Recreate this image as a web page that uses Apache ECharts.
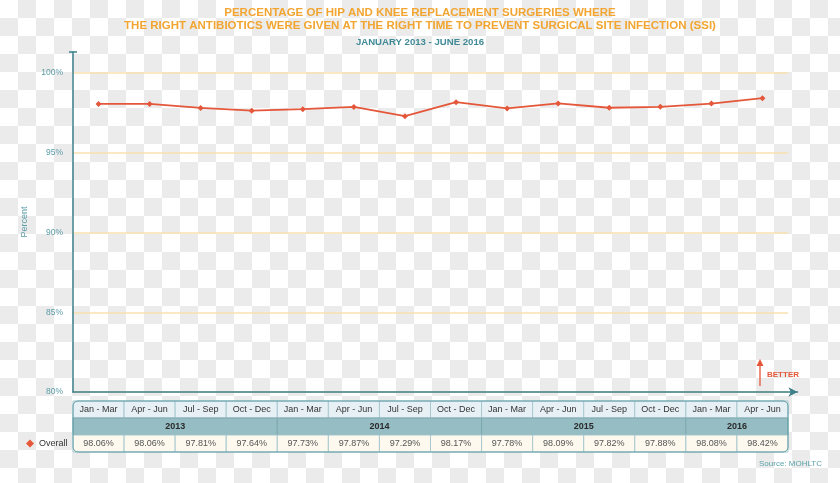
<!DOCTYPE html>
<html><head><meta charset="utf-8">
<script src="https://cdn.jsdelivr.net/npm/echarts@6/dist/echarts.min.js"></script>
<style>
html,body{margin:0;padding:0;width:840px;height:483px;overflow:hidden;
background:#fff repeating-conic-gradient(#ebebeb 0 25%, #ffffff 0 50%) 0 0/36px 36px;}
#c{width:840px;height:483px;}
</style></head><body><div id="c"></div>
<script>
const quarters = ['Jan - Mar','Apr - Jun','Jul - Sep','Oct - Dec','Jan - Mar','Apr - Jun','Jul - Sep','Oct - Dec','Jan - Mar','Apr - Jun','Jul - Sep','Oct - Dec','Jan - Mar','Apr - Jun'];
const years = ['2013','2014','2015','2016'];
const yearSpans = [4,4,4,2];
const overall = [98.06,98.06,97.81,97.64,97.73,97.87,97.29,98.17,97.78,98.09,97.82,97.88,98.08,98.42];
const yMin = 80, yMax = 100, yStep = 5;

const FONT = 'Liberation Sans, Arial, sans-serif';
const TEAL = '#5b9ca6';
const RED = '#e4573a';

// build table cells from the arrays
const cells = [];
quarters.forEach((q, i) => cells.push({x0: i, x1: i + 1, row: 0, text: q}));
let start = 0;
years.forEach((y, i) => { cells.push({x0: start, x1: start + yearSpans[i], row: 1, text: y}); start += yearSpans[i]; });
overall.forEach((v, i) => cells.push({x0: i, x1: i + 1, row: 2, text: v.toFixed(2) + '%'}));
const rowStyles = [
  {fill: '#e7f0f5', stroke: '#a9c9cf', color: '#333333', weight: 'normal'},
  {fill: '#95bdc3', stroke: '#7fa9b0', color: '#2a2a2a', weight: 'bold'},
  {fill: '#fdf9ee', stroke: '#a9c9cf', color: '#555555', weight: 'normal'}
];

function renderCell(params, api) {
  const c = cells[params.dataIndex];
  const s = rowStyles[c.row];
  const p0 = api.coord([c.x0, c.row]);
  const p1 = api.coord([c.x1, c.row + 1]);
  return {
    type: 'group',
    children: [
      {type: 'rect', shape: {x: p0[0], y: p0[1], width: p1[0] - p0[0], height: p1[1] - p0[1]},
       style: {fill: s.fill, stroke: s.stroke, lineWidth: 1}},
      {type: 'text', style: {text: c.text, x: (p0[0] + p1[0]) / 2, y: (p0[1] + p1[1]) / 2,
       align: 'center', verticalAlign: 'middle', fill: s.color, fontSize: 9, fontWeight: s.weight, fontFamily: FONT}}
    ]
  };
}
function renderFrame(params, api) {
  const p0 = api.coord([0, 0]);
  const p1 = api.coord([quarters.length, 3]);
  return {type: 'rect', shape: {x: p0[0], y: p0[1], width: p1[0] - p0[0], height: p1[1] - p0[1], r: 5},
    style: {fill: 'none', stroke: TEAL, lineWidth: 1}, z2: 10};
}

const chart = echarts.init(document.getElementById('c'), null, {renderer: 'canvas'});
chart.setOption({
  backgroundColor: 'transparent',
  animation: false,
  title: [
    {text: 'PERCENTAGE OF HIP AND KNEE REPLACEMENT SURGERIES WHERE\nTHE RIGHT ANTIBIOTICS WERE GIVEN AT THE RIGHT TIME TO PREVENT SURGICAL SITE INFECTION (SSI)',
     left: 'center', top: 6, padding: 0,
     textStyle: {color: '#f2a531', fontSize: 11.5, fontWeight: 'bold', fontFamily: FONT, lineHeight: 13}},
    {text: 'JANUARY 2013 - JUNE 2016', left: 'center', top: 37, padding: 0,
     textStyle: {color: '#3f8a96', fontSize: 9.6, fontWeight: 'bold', fontFamily: FONT}},
    {text: 'Source: MOHLTC', right: 18, top: 460, padding: 0,
     textStyle: {color: '#5ba3ab', fontSize: 8, fontWeight: 'normal', fontFamily: FONT}}
  ],
  legend: {
    data: [{name: 'Overall', icon: 'diamond'}],
    left: 26, top: 439, padding: 0, itemWidth: 8, itemHeight: 8, itemGap: 5,
    textStyle: {fontSize: 9, color: '#333', fontFamily: FONT}
  },
  grid: [
    {left: 73, right: 52, top: 73, bottom: 91},
    {left: 73, right: 52, top: 401, bottom: 31},
    {left: 73, right: 42.5, top: 52, bottom: 91}
  ],
  xAxis: [
    {type: 'category', gridIndex: 0, data: quarters, boundaryGap: true,
     axisLine: {show: false}, axisTick: {show: false}, axisLabel: {show: false}, splitLine: {show: false}},
    {type: 'value', gridIndex: 1, min: 0, max: quarters.length, show: false},
    {type: 'value', gridIndex: 2, min: 0, max: 1,
     axisLine: {show: true, symbol: ['none', 'arrow'], symbolSize: [7, 9], lineStyle: {color: '#3b7f8b', width: 1.5}},
     axisTick: {show: false}, axisLabel: {show: false}, splitLine: {show: false}}
  ],
  yAxis: [
    {type: 'value', gridIndex: 0, min: yMin, max: yMax, interval: yStep,
     axisLine: {show: false}, axisTick: {show: false},
     axisLabel: {formatter: v => v + '%', color: TEAL, fontSize: 8.5, fontFamily: FONT, margin: 10},
     splitLine: {show: true, lineStyle: {color: '#f8e0ae', width: 1.5}}},
    {type: 'value', gridIndex: 1, min: 0, max: 3, inverse: true, show: false},
    {type: 'value', gridIndex: 2, min: 0, max: 1,
     axisLine: {show: true, symbol: ['none', 'rect'], symbolSize: [8, 1.5], lineStyle: {color: '#3b7f8b', width: 1.5}},
     axisTick: {show: false}, axisLabel: {show: false}, splitLine: {show: false}}
  ],
  graphic: [
    {type: 'text', x: 25, y: 222, rotation: Math.PI / 2,
     style: {text: 'Percent', fill: TEAL, fontSize: 9, fontFamily: FONT, align: 'center', verticalAlign: 'middle'}},
    {type: 'line', shape: {x1: 760, y1: 386, x2: 760, y2: 365}, style: {stroke: RED, lineWidth: 1.3}},
    {type: 'polygon', shape: {points: [[760, 359], [756.5, 366], [763.5, 366]]}, style: {fill: RED}},
    {type: 'text', x: 767, y: 375,
     style: {text: 'BETTER', fill: RED, fontSize: 8, fontWeight: 'bold', fontFamily: FONT, verticalAlign: 'middle'}}
  ],
  series: [
    {name: 'Overall', type: 'line', xAxisIndex: 0, yAxisIndex: 0, data: overall,
     color: RED, symbol: 'diamond', symbolSize: 6, showSymbol: true,
     lineStyle: {color: RED, width: 1.8}, itemStyle: {color: RED}},
    {name: 'table', type: 'custom', xAxisIndex: 1, yAxisIndex: 1,
     data: cells.map(c => [c.x0, c.x1, c.row]), encode: {x: [0, 1], y: 2},
     renderItem: renderCell, silent: true},
    {name: 'frame', type: 'custom', xAxisIndex: 1, yAxisIndex: 1,
     data: [[0, quarters.length, 0]], encode: {x: [0, 1], y: 2},
     renderItem: renderFrame, silent: true, z: 3}
  ]
});
</script></body></html>
